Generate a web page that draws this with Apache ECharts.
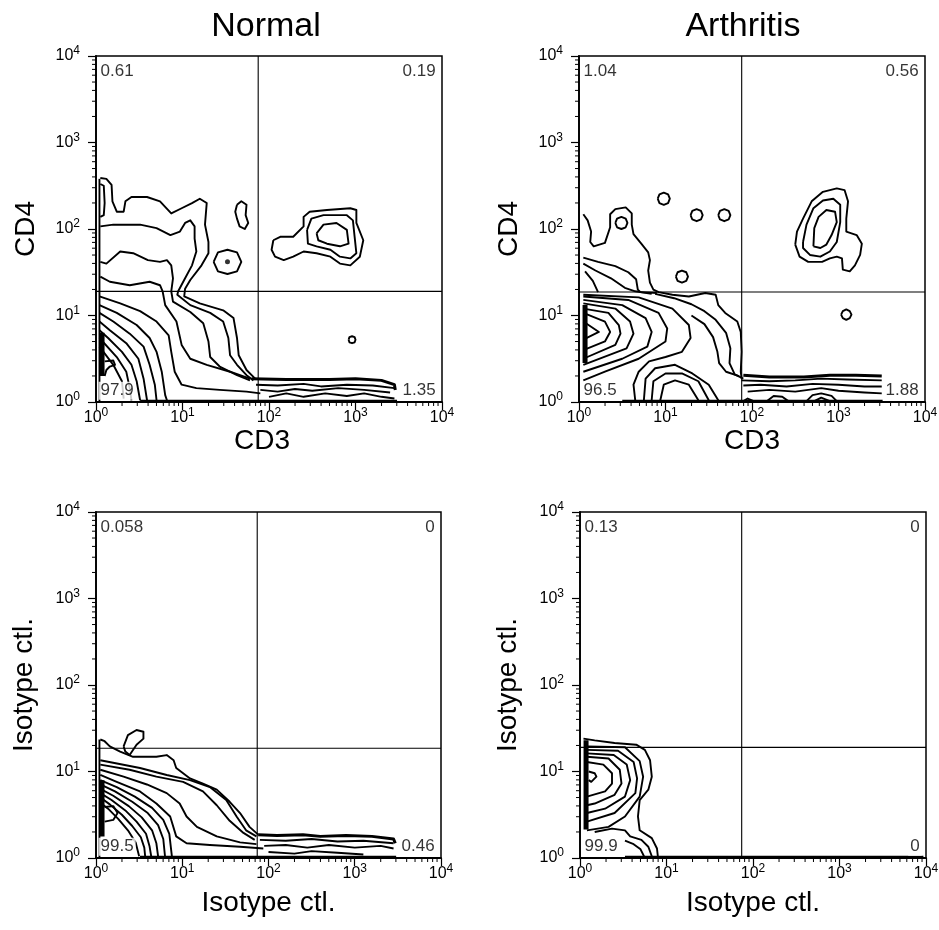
<!DOCTYPE html>
<html>
<head>
<meta charset="utf-8">
<title>CD3 / CD4 contour plots</title>
<script src="https://cdn.jsdelivr.net/npm/echarts@6/dist/echarts.min.js"></script>
<style>
    html, body { margin: 0; padding: 0; background: #fff; }
    #chart { width: 939px; height: 930px; }
</style>
</head>
<body>
<div id="chart"></div>
<script>
// contour lines, stored in decades: [log10 x, log10 y]
var panelTitles = ['Normal', 'Arthritis'];
var xNames = ['CD3', 'CD3', 'Isotype ctl.', 'Isotype ctl.'];
var yNames = ['CD4', 'CD4', 'Isotype ctl.', 'Isotype ctl.'];

// quadrant percentages: upper left, upper right, lower left, lower right
var pctNormalCd = ['0.61', '0.19', '97.9', '1.35'];
var pctArthritisCd = ['1.04', '0.56', '96.5', '1.88'];
var pctNormalIso = ['0.058', '0', '99.5', '0.46'];
var pctArthritisIso = ['0.13', '0', '99.9', '0'];

// quadrant gates [x, y]
var gateNormalCd = [75, 19];
var gateArthritisCd = [76, 18.7];
var gateNormalIso = [74, 18.6];
var gateArthritisIso = [74, 19];

// Normal, CD3 vs CD4
var normalCdLines = [
    [[0.05,2.59],[0.12,2.58],[0.18,2.51],[0.19,2.32],[0.24,2.2],[0.32,2.2],[0.34,2.32],[0.41,2.37],[0.59,2.37],[0.74,2.32],[0.87,2.18],[0.99,2.24],[1.11,2.3],[1.2,2.35],[1.28,2.3],[1.26,2.05],[1.3,1.85],[1.3,1.72],[1.22,1.58],[1.09,1.41],[1.03,1.31],[1.02,1.22],[1.2,1.14],[1.47,1.06],[1.59,0.97],[1.63,0.74],[1.65,0.54],[1.74,0.37],[1.84,0.27]],
    [[0.05,2.03],[0.2,2.05],[0.51,2.05],[0.7,2.01],[0.86,1.93],[0.97,1.97],[1.03,2.07],[1.09,2.1],[1.14,2.03],[1.14,1.89],[1.16,1.74],[1.11,1.58],[1.03,1.43],[0.95,1.28],[0.94,1.24],[1.09,1.12],[1.32,1.03],[1.47,0.93],[1.53,0.74],[1.55,0.54],[1.63,0.43],[1.74,0.31],[1.82,0.25]],
    [[0.05,1.62],[0.12,1.6],[0.28,1.74],[0.43,1.72],[0.6,1.64],[0.74,1.62],[0.82,1.64],[0.87,1.58],[0.89,1.43],[0.87,1.28],[0.89,1.16],[1.09,1.04],[1.24,0.91],[1.3,0.7],[1.32,0.52],[1.43,0.41],[1.63,0.31],[1.78,0.25]],
    [[0.05,1.45],[0.16,1.39],[0.39,1.35],[0.62,1.39],[0.74,1.35],[0.77,1.28],[0.8,1.12],[0.93,0.93],[0.99,0.66],[1.09,0.5],[1.28,0.43],[1.55,0.35],[1.78,0.27]],
    [[0.04,1.22],[0.28,1.14],[0.51,1.05],[0.7,0.93],[0.84,0.77],[0.87,0.58],[0.91,0.35],[0.99,0.2],[1.16,0.16],[1.43,0.14],[1.74,0.12],[1.9,0.1]],
    [[0.04,1.12],[0.24,1.03],[0.47,0.89],[0.62,0.74],[0.7,0.58],[0.76,0.35],[0.8,0.08],[0.82,0.02]],
    [[0.04,1.03],[0.2,0.93],[0.39,0.79],[0.55,0.64],[0.62,0.43],[0.68,0.2],[0.7,0.02]],
    [[0.04,0.93],[0.16,0.83],[0.35,0.68],[0.49,0.5],[0.55,0.27],[0.59,0.02]],
    [[0.04,0.83],[0.14,0.74],[0.3,0.58],[0.41,0.43],[0.47,0.24],[0.51,0.02]],
    [[0.04,0.74],[0.24,0.52],[0.35,0.35],[0.39,0.16],[0.41,0.02]],
    [[0.04,0.64],[0.2,0.43],[0.3,0.24],[0.32,0.04]],
    [[0.1,0.47],[0.2,0.48],[0.22,0.43],[0.16,0.41],[0.12,0.37],[0.1,0.3]],
    [[0.05,2.52],[0.09,2.5],[0.1,2.3],[0.09,2.16],[0.05,2.14]],
    [[1.85,0.2],[2.1,0.19],[2.4,0.21],[2.6,0.18],[2.9,0.2],[3.2,0.19],[3.45,0.16]],
    [[1.9,0.14],[2.1,0.12],[2.3,0.15],[2.5,0.13],[2.8,0.16],[3.1,0.14],[3.4,0.11]],
    [[2.0,0.06],[2.2,0.1],[2.4,0.06],[2.65,0.1],[2.9,0.07],[3.1,0.1],[3.3,0.06],[3.45,0.04]],
    [[2.05,1.87],[2.13,1.91],[2.28,1.91],[2.4,2.03],[2.4,2.14],[2.47,2.2],[2.67,2.22],[2.94,2.24],[3.01,2.22],[3.01,2.07],[3.09,1.87],[3.05,1.68],[2.94,1.58],[2.82,1.6],[2.71,1.68],[2.55,1.72],[2.4,1.74],[2.28,1.68],[2.17,1.64],[2.07,1.68],[2.03,1.76],[2.05,1.87]],
    [[2.44,1.99],[2.49,2.12],[2.63,2.16],[2.9,2.16],[2.97,2.1],[2.99,1.91],[3.01,1.72],[2.94,1.66],[2.82,1.68],[2.71,1.76],[2.55,1.8],[2.45,1.83],[2.44,1.99]],
    [[2.55,1.95],[2.63,2.05],[2.78,2.07],[2.9,1.99],[2.92,1.83],[2.82,1.8],[2.67,1.83],[2.57,1.87],[2.55,1.95]],
    [[1.63,2.28],[1.68,2.32],[1.74,2.28],[1.73,2.16],[1.76,2.07],[1.72,2.0],[1.66,2.03],[1.63,2.12],[1.61,2.2],[1.63,2.28]],
    [[1.36,1.62],[1.41,1.73],[1.52,1.76],[1.63,1.73],[1.68,1.62],[1.63,1.51],[1.52,1.48],[1.41,1.51],[1.36,1.62]],
    [[2.92,0.72],[2.93,0.75],[2.96,0.76],[2.99,0.75],[3.0,0.72],[2.99,0.69],[2.96,0.68],[2.93,0.69],[2.92,0.72]],
    [[0.04,0.01],[0.04,2.58]]
];
var normalCdBold = [
    [[1.8,0.27],[2.2,0.26],[2.7,0.26],[3.0,0.27],[3.3,0.25],[3.45,0.2],[3.46,0.14]],
    [[0.51,0.01],[3.48,0.01]]
];
var normalCdBars = [[[0.07,0.3],[0.07,0.8]]];
var normalCdDots = [[1.52,1.62]];

// Arthritis, CD3 vs CD4
var arthritisCdLines = [
    [[0.05,2.17],[0.1,2.1],[0.14,1.97],[0.13,1.85],[0.17,1.8],[0.3,1.84],[0.36,2.02],[0.36,2.17],[0.42,2.23],[0.54,2.25],[0.61,2.18],[0.61,2.05],[0.63,1.94],[0.72,1.83],[0.8,1.73],[0.82,1.64],[0.8,1.52],[0.82,1.38],[0.86,1.3],[0.92,1.27],[1.08,1.24],[1.27,1.22],[1.46,1.26],[1.58,1.24],[1.61,1.12],[1.69,1.03],[1.83,0.93],[1.87,0.81],[1.88,0.58],[1.87,0.35],[1.88,0.27]],
    [[0.05,1.67],[0.22,1.62],[0.42,1.57],[0.57,1.5],[0.66,1.42],[0.68,1.3],[0.71,1.27],[0.9,1.26]],
    [[0.05,1.6],[0.19,1.52],[0.37,1.43],[0.53,1.32],[0.65,1.28],[0.84,1.25]],
    [[0.07,1.51],[0.16,1.4],[0.22,1.27]],
    [[0.05,0.93],[0.23,0.81],[0.05,0.72]],
    [[0.05,1.03],[0.3,0.93],[0.36,0.81],[0.3,0.7],[0.05,0.6]],
    [[0.05,1.08],[0.34,1.03],[0.46,0.89],[0.48,0.79],[0.42,0.66],[0.05,0.5]],
    [[0.05,1.14],[0.42,1.08],[0.59,0.93],[0.63,0.79],[0.55,0.62],[0.05,0.43]],
    [[0.05,1.18],[0.5,1.12],[0.77,0.97],[0.84,0.81],[0.79,0.64],[0.5,0.5],[0.05,0.35]],
    [[0.05,1.22],[0.57,1.18],[0.92,1.03],[1.02,0.85],[1.0,0.7],[0.69,0.5],[0.3,0.35],[0.05,0.25]],
    [[0.05,1.24],[0.69,1.21],[1.08,1.08],[1.27,0.89],[1.29,0.74],[1.19,0.58],[1.0,0.52],[0.81,0.47],[0.69,0.35],[0.63,0.2],[0.65,0.02]],
    [[0.88,1.25],[1.1,1.2],[1.3,1.13],[1.45,1.05],[1.58,0.95],[1.7,0.8],[1.75,0.62],[1.74,0.45],[1.8,0.32],[1.9,0.27]],
    [[1.3,1.0],[1.45,0.9],[1.55,0.75],[1.6,0.58],[1.62,0.45],[1.7,0.35],[1.85,0.3]],
    [[0.75,0.02],[0.77,0.27],[0.88,0.39],[1.11,0.43],[1.31,0.33],[1.5,0.2],[1.61,0.02]],
    [[0.84,0.02],[0.86,0.24],[1.0,0.33],[1.19,0.33],[1.38,0.24],[1.5,0.02]],
    [[0.94,0.02],[0.98,0.2],[1.11,0.25],[1.27,0.2],[1.38,0.02]],
    [[0.91,2.35],[0.93,2.4],[0.98,2.42],[1.03,2.4],[1.05,2.35],[1.03,2.3],[0.98,2.28],[0.93,2.3],[0.91,2.35]],
    [[1.29,2.16],[1.31,2.21],[1.36,2.23],[1.41,2.21],[1.43,2.16],[1.41,2.11],[1.36,2.09],[1.31,2.11],[1.29,2.16]],
    [[1.61,2.16],[1.63,2.21],[1.68,2.23],[1.73,2.21],[1.75,2.16],[1.73,2.11],[1.68,2.09],[1.63,2.11],[1.61,2.16]],
    [[1.12,1.45],[1.14,1.5],[1.19,1.52],[1.24,1.5],[1.26,1.45],[1.24,1.4],[1.19,1.38],[1.14,1.4],[1.12,1.45]],
    [[0.42,2.07],[0.44,2.12],[0.49,2.14],[0.54,2.12],[0.56,2.07],[0.54,2.02],[0.49,2.0],[0.44,2.02],[0.42,2.07]],
    [[3.03,1.01],[3.05,1.05],[3.09,1.07],[3.13,1.05],[3.15,1.01],[3.13,0.97],[3.09,0.95],[3.05,0.97],[3.03,1.01]],
    [[1.88,0.25],[2.2,0.24],[2.5,0.25],[2.8,0.27],[3.1,0.26],[3.5,0.25]],
    [[1.9,0.19],[2.1,0.2],[2.4,0.18],[2.7,0.21],[3.0,0.2],[3.3,0.18],[3.5,0.18]],
    [[1.95,0.12],[2.2,0.14],[2.5,0.12],[2.8,0.16],[3.0,0.13],[3.3,0.11],[3.5,0.1]],
    [[2.63,0.01],[2.7,0.08],[2.8,0.1],[2.92,0.07],[2.98,0.01]],
    [[2.72,0.01],[2.8,0.05],[2.9,0.01]],
    [[2.17,0.01],[2.25,0.07],[2.35,0.06],[2.42,0.01]],
    [[1.9,0.01],[1.95,0.04],[2.02,0.01]],
    [[2.5,1.82],[2.52,1.97],[2.59,2.12],[2.69,2.32],[2.82,2.43],[2.98,2.47],[3.07,2.45],[3.11,2.32],[3.09,2.12],[3.09,1.97],[3.21,1.93],[3.27,1.83],[3.25,1.7],[3.19,1.58],[3.13,1.51],[3.05,1.53],[3.04,1.66],[2.98,1.68],[2.9,1.66],[2.81,1.62],[2.65,1.62],[2.55,1.68],[2.5,1.82]],
    [[2.59,1.85],[2.63,2.05],[2.71,2.24],[2.82,2.33],[2.94,2.35],[3.02,2.28],[3.02,2.08],[2.98,1.85],[2.9,1.74],[2.79,1.68],[2.67,1.7],[2.59,1.78],[2.59,1.85]],
    [[2.71,1.8],[2.72,2.01],[2.77,2.14],[2.86,2.22],[2.96,2.2],[2.98,2.08],[2.92,1.93],[2.86,1.82],[2.79,1.78],[2.71,1.8]]
];
var arthritisCdBold = [
    [[1.9,0.31],[2.2,0.29],[2.6,0.29],[2.9,0.31],[3.2,0.31],[3.5,0.3]],
    [[0.5,0.01],[3.51,0.01]]
];
var arthritisCdBars = [[[0.07,0.45],[0.07,1.12]]];
var arthritisCdDots = [];

// Normal, isotype controls
var normalIsoLines = [
    [[0.32,1.29],[0.37,1.42],[0.47,1.48],[0.55,1.46],[0.55,1.38],[0.47,1.31],[0.39,1.19],[0.34,1.23],[0.32,1.29]],
    [[0.05,1.37],[0.1,1.35],[0.16,1.29],[0.28,1.23],[0.43,1.17],[0.7,1.17],[0.82,1.19],[0.9,1.13],[0.93,1.04],[1.09,0.92],[1.24,0.86],[1.4,0.79],[1.55,0.65],[1.67,0.52],[1.78,0.36],[1.88,0.27]],
    [[0.05,1.13],[0.51,1.04],[0.82,0.96],[1.09,0.9],[1.32,0.82],[1.51,0.67],[1.63,0.48],[1.74,0.32],[1.86,0.25]],
    [[0.05,1.08],[0.39,1.02],[0.7,0.94],[1.01,0.88],[1.24,0.77],[1.4,0.61],[1.55,0.43],[1.71,0.29],[1.84,0.21]],
    [[0.05,1.02],[0.32,0.94],[0.59,0.85],[0.82,0.75],[0.97,0.63],[1.05,0.48],[1.17,0.36],[1.4,0.25],[1.67,0.18],[1.86,0.16]],
    [[0.05,0.96],[0.24,0.88],[0.51,0.77],[0.7,0.63],[0.86,0.48],[0.93,0.25],[1.05,0.17],[1.32,0.15],[1.67,0.13],[1.94,0.11]],
    [[0.05,0.9],[0.24,0.82],[0.45,0.71],[0.65,0.58],[0.78,0.44],[0.85,0.28],[0.88,0.02]],
    [[0.05,0.85],[0.22,0.77],[0.42,0.65],[0.6,0.52],[0.72,0.38],[0.78,0.22],[0.8,0.02]],
    [[0.05,0.8],[0.2,0.72],[0.38,0.6],[0.53,0.47],[0.65,0.32],[0.7,0.17],[0.72,0.02]],
    [[0.05,0.75],[0.18,0.67],[0.34,0.55],[0.47,0.42],[0.58,0.28],[0.62,0.14],[0.64,0.02]],
    [[0.05,0.7],[0.16,0.62],[0.3,0.5],[0.42,0.37],[0.52,0.24],[0.56,0.12],[0.57,0.02]],
    [[0.05,0.64],[0.14,0.57],[0.26,0.45],[0.37,0.32],[0.46,0.18],[0.5,0.02]],
    [[0.1,0.59],[0.2,0.6],[0.25,0.52],[0.2,0.44],[0.1,0.42]],
    [[1.9,0.21],[2.2,0.2],[2.5,0.22],[2.8,0.19],[3.1,0.2],[3.45,0.17]],
    [[1.95,0.14],[2.2,0.15],[2.45,0.12],[2.7,0.15],[3.0,0.12],[3.3,0.14],[3.45,0.11]],
    [[2.0,0.07],[2.3,0.05],[2.5,0.08],[2.8,0.06],[3.1,0.04]],
    [[0.04,0.01],[0.04,1.37]]
];
var normalIsoBold = [
    [[1.88,0.27],[2.1,0.26],[2.4,0.27],[2.6,0.25],[2.9,0.26],[3.2,0.25],[3.45,0.22],[3.47,0.17]],
    [[0.51,0.01],[3.48,0.01]]
];
var normalIsoBars = [[[0.07,0.25],[0.07,0.9]]];
var normalIsoDots = [];

// Arthritis, isotype controls
var arthritisIsoLines = [
    [[0.1,1.0],[0.17,0.98],[0.19,0.94],[0.13,0.88],[0.1,0.9]],
    [[0.08,1.11],[0.27,1.08],[0.37,0.98],[0.37,0.86],[0.29,0.77],[0.08,0.71]],
    [[0.08,1.17],[0.33,1.15],[0.46,1.02],[0.48,0.86],[0.4,0.73],[0.17,0.63],[0.08,0.61]],
    [[0.08,1.21],[0.39,1.19],[0.54,1.08],[0.58,0.9],[0.52,0.71],[0.29,0.57],[0.08,0.52]],
    [[0.08,1.25],[0.44,1.24],[0.62,1.11],[0.66,0.92],[0.64,0.75],[0.4,0.52],[0.08,0.42]],
    [[0.08,1.29],[0.52,1.28],[0.69,1.12],[0.73,0.94],[0.69,0.71],[0.52,0.48],[0.33,0.36],[0.08,0.32]],
    [[0.04,1.38],[0.17,1.36],[0.4,1.33],[0.65,1.31],[0.75,1.25],[0.81,1.13],[0.83,0.94],[0.79,0.79],[0.69,0.67],[0.67,0.48],[0.69,0.32],[0.83,0.23],[0.89,0.11],[0.9,0.02]],
    [[0.17,0.3],[0.37,0.34],[0.52,0.32],[0.58,0.25],[0.71,0.21],[0.79,0.13],[0.83,0.02]],
    [[0.52,0.2],[0.62,0.16],[0.7,0.1],[0.74,0.02]]
];
var arthritisIsoBold = [[[0.52,0.01],[3.97,0.01]]];
var arthritisIsoBars = [[[0.07,0.33],[0.07,1.36]]];
var arthritisIsoDots = [];

// minor log ticks, 2..9 in every decade
var minorTickValues = [];
[1, 10, 100, 1000].forEach(function (d) {
    [2, 3, 4, 5, 6, 7, 8, 9].forEach(function (m) { minorTickValues.push(m * d); });
});

var FONT = '"Liberation Sans", Arial, Helvetica, sans-serif';
var INK = '#000';

var panels = [
    { lines: normalCdLines, bold: normalCdBold, bars: normalCdBars, dots: normalCdDots, pct: pctNormalCd, gate: gateNormalCd },
    { lines: arthritisCdLines, bold: arthritisCdBold, bars: arthritisCdBars, dots: arthritisCdDots, pct: pctArthritisCd, gate: gateArthritisCd },
    { lines: normalIsoLines, bold: normalIsoBold, bars: normalIsoBars, dots: normalIsoDots, pct: pctNormalIso, gate: gateNormalIso },
    { lines: arthritisIsoLines, bold: arthritisIsoBold, bars: arthritisIsoBars, dots: arthritisIsoDots, pct: pctArthritisIso, gate: gateArthritisIso }
];

var grids = [
    { left: 96, top: 56, width: 346, height: 346 },
    { left: 579, top: 56, width: 346, height: 346 },
    { left: 96, top: 512, width: 345, height: 346 },
    { left: 580, top: 512, width: 346, height: 346 }
];
var xNameGap = [22, 22, 31, 31];
var xNamePad = [14, 0, 0, 0];
var yNameGap = [56, 56, 58, 58];

function toLin(p) {
    return [Math.pow(10, p[0]), Math.pow(10, p[1])];
}

function expLabel(v) {
    return '{b|10}{s|' + Math.round(Math.log10(v)) + '}';
}

var RICH = {
    b: { fontSize: 16, lineHeight: 22, color: INK, fontFamily: FONT },
    s: { fontSize: 12, lineHeight: 12, verticalAlign: 'top', color: INK, fontFamily: FONT }
};

// all polylines of one weight in one 'lines' series
function contourSeries(i, list, width) {
    return {
        type: 'lines', coordinateSystem: 'cartesian2d', xAxisIndex: i, yAxisIndex: i,
        polyline: true, silent: true, z: 3,
        data: list.map(function (l) { return { coords: l.map(toLin) }; }),
        lineStyle: { color: INK, width: width, opacity: 1, join: 'round' }
    };
}

function tickSeries(i, dir) {
    return {
        type: 'custom', xAxisIndex: i, yAxisIndex: i, silent: true, clip: false, z: 6,
        data: minorTickValues.map(function (v) { return dir === 'x' ? [v, 1] : [1, v]; }),
        renderItem: function (params, api) {
            var pt = api.coord([api.value(0), api.value(1)]);
            var shape = dir === 'x'
                ? { x1: pt[0], y1: pt[1], x2: pt[0], y2: pt[1] + 4 }
                : { x1: pt[0] - 4, y1: pt[1], x2: pt[0], y2: pt[1] };
            return { type: 'line', shape: shape, style: { stroke: INK, lineWidth: 1 } };
        }
    };
}

// where the quadrant percentages sit, in decades
var spotX = [0.03, 3.95];
var spotY = [3.82, 0.13];

var series = [];
var xAxes = [];
var yAxes = [];

panels.forEach(function (p, i) {
    series.push(contourSeries(i, p.lines, 1.9));
    series.push(contourSeries(i, p.bold, 3));
    series.push(contourSeries(i, p.bars, 5));

    // quadrant gates
    series.push({
        type: 'line', xAxisIndex: i, yAxisIndex: i, symbol: 'none', silent: true, z: 2,
        data: [[p.gate[0], 1], [p.gate[0], 10000]],
        lineStyle: { color: INK, width: 1.1 }
    });
    series.push({
        type: 'line', xAxisIndex: i, yAxisIndex: i, symbol: 'none', silent: true, z: 2,
        data: [[1, p.gate[1]], [10000, p.gate[1]]],
        lineStyle: { color: INK, width: 1.1 }
    });

    if (p.dots.length) {
        series.push({
            type: 'scatter', xAxisIndex: i, yAxisIndex: i, silent: true, z: 4,
            symbolSize: 5, itemStyle: { color: INK },
            data: p.dots.map(toLin)
        });
    }

    var spots = [[0, 0], [1, 0], [0, 1], [1, 1]];
    series.push({
        type: 'scatter', xAxisIndex: i, yAxisIndex: i, silent: true, z: 10,
        symbolSize: 0,
        data: p.pct.map(function (t, k) {
            var s = spots[k];
            return {
                name: t,
                value: toLin([spotX[s[0]], spotY[s[1]]]),
                label: { position: s[0] === 0 ? 'right' : 'left' }
            };
        }),
        label: {
            show: true, formatter: '{b}', distance: 0,
            color: INK, fontSize: 17, fontFamily: FONT, fontWeight: 'normal',
            textBorderWidth: 0, textShadowBlur: 0,
            backgroundColor: '#fff', padding: [1, 2, 0, 2]
        }
    });

    series.push(tickSeries(i, 'x'));
    series.push(tickSeries(i, 'y'));

    xAxes.push({
        type: 'log', logBase: 10, gridIndex: i, min: 1, max: 10000,
        name: xNames[i], nameLocation: 'middle', nameGap: xNameGap[i],
        nameTextStyle: { fontSize: 28, color: INK, fontFamily: FONT, padding: [0, xNamePad[i], 0, 0] },
        axisLine: { show: true, lineStyle: { color: INK, width: 1.8 } },
        axisTick: { show: true, inside: false, length: 8, lineStyle: { color: INK, width: 1.2 } },
        axisLabel: { margin: 5, formatter: expLabel, rich: RICH },
        splitLine: { show: false },
        minorTick: { show: false }
    });
    yAxes.push({
        type: 'log', logBase: 10, gridIndex: i, min: 1, max: 10000,
        name: yNames[i], nameLocation: 'middle', nameRotate: 90, nameGap: yNameGap[i],
        nameTextStyle: { fontSize: 28, color: INK, fontFamily: FONT },
        axisLine: { show: true, lineStyle: { color: INK, width: 1.8 } },
        axisTick: { show: true, inside: false, length: 8, lineStyle: { color: INK, width: 1.2 } },
        axisLabel: { margin: 16, formatter: expLabel, rich: RICH },
        splitLine: { show: false },
        minorTick: { show: false }
    });
});

var chart = echarts.init(document.getElementById('chart'));
chart.setOption({
    backgroundColor: '#fff',
    animation: false,
    title: [
        { text: panelTitles[0], left: 266, top: 10, textAlign: 'center', padding: 0,
          textStyle: { fontSize: 34, fontWeight: 'normal', color: INK, fontFamily: FONT } },
        { text: panelTitles[1], left: 743, top: 10, textAlign: 'center', padding: 0,
          textStyle: { fontSize: 34, fontWeight: 'normal', color: INK, fontFamily: FONT } }
    ],
    grid: grids.map(function (g) {
        return {
            left: g.left, top: g.top, width: g.width, height: g.height,
            show: true, borderColor: INK, borderWidth: 1.5, backgroundColor: 'transparent',
            containLabel: false, outerBoundsMode: 'none'
        };
    }),
    xAxis: xAxes,
    yAxis: yAxes,
    series: series
});
</script>
</body>
</html>
